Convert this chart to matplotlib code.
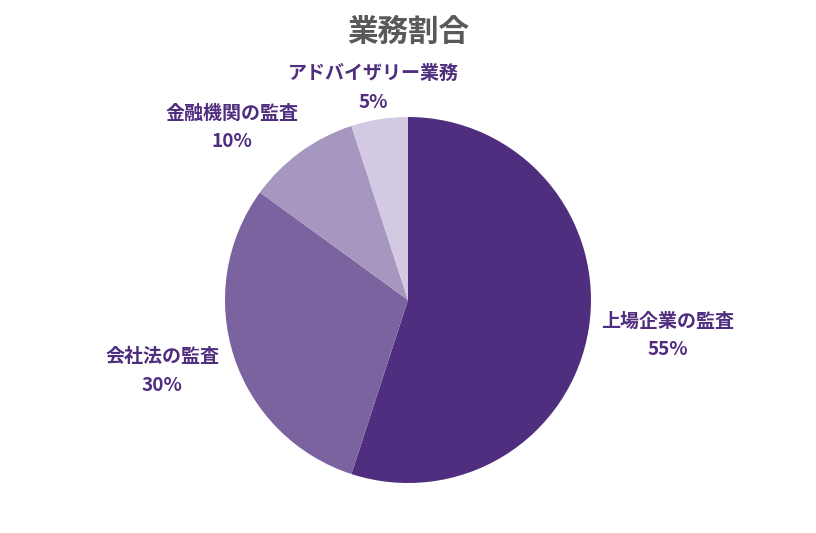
import matplotlib
matplotlib.use("Agg")
import matplotlib.pyplot as plt

plt.rcParams['font.family'] = ['Noto Sans CJK JP', 'DejaVu Sans']

categories = ["上場企業の監査", "会社法の監査", "金融機関の監査", "アドバイザリー業務"]
values = [55, 30, 10, 5]
colors = ["#4f2d7f", "#7b63a0", "#a697c0", "#d4c9e2"]
label_pos = [(1.42, -0.194), (-1.344, -0.388), (-0.962, 0.943), (-0.191, 1.158)]

fig = plt.figure(figsize=(8.16, 5.33), dpi=100)
ax = fig.add_axes([(408 - 183) / 816, (533 - 300 - 183) / 533, 366 / 816, 366 / 533])
wedges, _ = ax.pie(values, colors=colors, startangle=90, counterclock=False,
                   radius=1.0, wedgeprops=dict(linewidth=0))
ax.set_xlim(-1, 1)
ax.set_ylim(-1, 1)
ax.axis('off')

for cat, v, (x, y) in zip(categories, values, label_pos):
    ax.text(x, y, f"{cat}\n{v}%", ha='center', va='center', fontsize=13.7,
            fontweight='bold', color="#4f2d7f", linespacing=1.63, clip_on=False)

fig.text(408 / 816, 1 - 32 / 533, "業務割合", ha='center', va='center',
         fontsize=22, fontweight='bold', color="#595959")

fig.savefig("out.png", dpi=100)
